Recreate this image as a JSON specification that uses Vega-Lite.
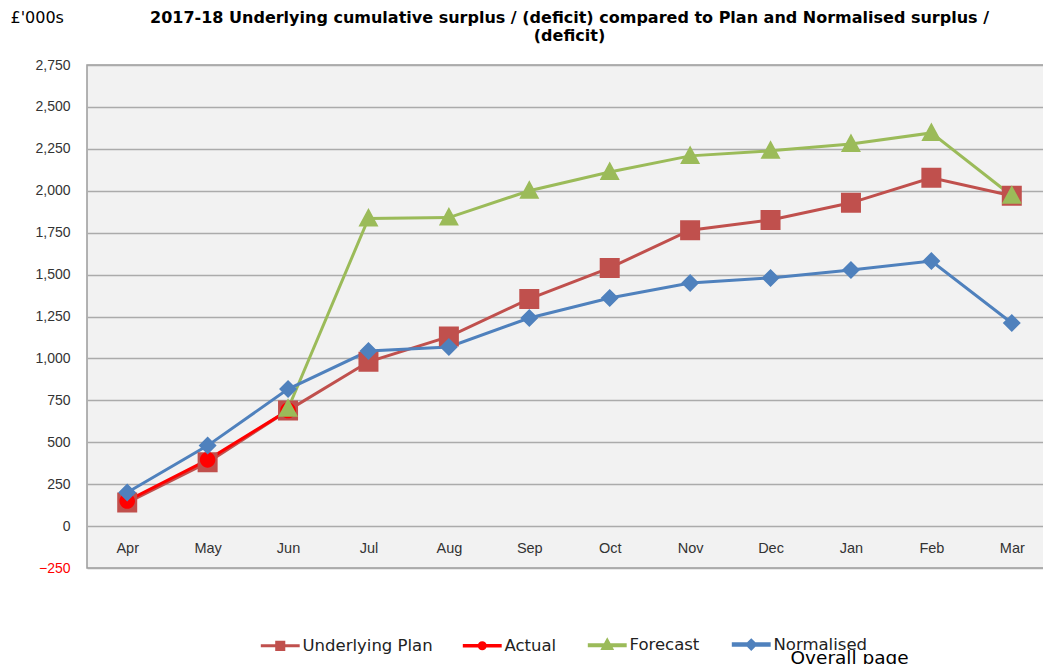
{
  "$schema": "https://vega.github.io/schema/vega-lite/v6.json",
  "width": 965,
  "height": 503,
  "autosize": {"type": "none"},
  "padding": {"left": 87, "top": 65, "right": 0, "bottom": 96},
  "background": "white",
  "title": {
    "text": ["2017-18 Underlying cumulative surplus / (deficit) compared to Plan and Normalised surplus /", "(deficit)"],
    "font": "DejaVu Sans",
    "fontSize": 16,
    "fontWeight": "bold",
    "color": "#000000",
    "anchor": "middle",
    "offset": -35,
    "lineHeight": 18
  },
  "data": {
    "values": [
      {"month": "Apr", "series": "Underlying Plan", "value": 140},
      {"month": "May", "series": "Underlying Plan", "value": 380},
      {"month": "Jun", "series": "Underlying Plan", "value": 690},
      {"month": "Jul", "series": "Underlying Plan", "value": 980},
      {"month": "Aug", "series": "Underlying Plan", "value": 1130},
      {"month": "Sep", "series": "Underlying Plan", "value": 1355},
      {"month": "Oct", "series": "Underlying Plan", "value": 1540},
      {"month": "Nov", "series": "Underlying Plan", "value": 1765},
      {"month": "Dec", "series": "Underlying Plan", "value": 1826},
      {"month": "Jan", "series": "Underlying Plan", "value": 1928},
      {"month": "Feb", "series": "Underlying Plan", "value": 2077},
      {"month": "Mar", "series": "Underlying Plan", "value": 1970},
      {"month": "Apr", "series": "Actual", "value": 150},
      {"month": "May", "series": "Actual", "value": 395},
      {"month": "Jun", "series": "Actual", "value": 690},
      {"month": "Jun", "series": "Forecast", "value": 700},
      {"month": "Jul", "series": "Forecast", "value": 1835},
      {"month": "Aug", "series": "Forecast", "value": 1840},
      {"month": "Sep", "series": "Forecast", "value": 2000},
      {"month": "Oct", "series": "Forecast", "value": 2112},
      {"month": "Nov", "series": "Forecast", "value": 2208},
      {"month": "Dec", "series": "Forecast", "value": 2238},
      {"month": "Jan", "series": "Forecast", "value": 2279},
      {"month": "Feb", "series": "Forecast", "value": 2345},
      {"month": "Mar", "series": "Forecast", "value": 1970},
      {"month": "Apr", "series": "Normalised", "value": 200},
      {"month": "May", "series": "Normalised", "value": 480},
      {"month": "Jun", "series": "Normalised", "value": 817},
      {"month": "Jul", "series": "Normalised", "value": 1044},
      {"month": "Aug", "series": "Normalised", "value": 1068},
      {"month": "Sep", "series": "Normalised", "value": 1241},
      {"month": "Oct", "series": "Normalised", "value": 1360},
      {"month": "Nov", "series": "Normalised", "value": 1450},
      {"month": "Dec", "series": "Normalised", "value": 1480},
      {"month": "Jan", "series": "Normalised", "value": 1527},
      {"month": "Feb", "series": "Normalised", "value": 1581},
      {"month": "Mar", "series": "Normalised", "value": 1211}
    ]
  },
  "encoding": {
    "x": {
      "field": "month",
      "type": "ordinal",
      "sort": ["Apr", "May", "Jun", "Jul", "Aug", "Sep", "Oct", "Nov", "Dec", "Jan", "Feb", "Mar"],
      "scale": {"type": "point", "padding": 0.5},
      "axis": {
        "title": "Overall page",
        "titleFont": "DejaVu Sans",
        "titleFontSize": 18.5,
        "titleFontWeight": "normal",
        "titleColor": "#000000",
        "titleAlign": "left",
        "titleAnchor": null,
        "titleBaseline": "alphabetic",
        "titleX": 703,
        "titleY": 95,
        "labelAngle": 0,
        "labelFont": "Liberation Sans",
        "labelFontSize": 14.5,
        "labelColor": "#333333",
        "labelPadding": -27,
        "ticks": false,
        "domain": false,
        "grid": false
      }
    },
    "y": {
      "field": "value",
      "type": "quantitative",
      "scale": {"domain": [-250, 2750], "nice": false, "zero": false},
      "axis": {
        "values": [-250, 0, 250, 500, 750, 1000, 1250, 1500, 1750, 2000, 2250, 2500, 2750],
        "format": ",.0f",
        "title": "£'000s",
        "titleFont": "DejaVu Sans",
        "titleFontSize": 16,
        "titleFontWeight": "normal",
        "titleColor": "#000000",
        "titleAngle": 0,
        "titleAlign": "left",
        "titleBaseline": "middle",
        "titleAnchor": null,
        "titleX": -77,
        "titleY": -48,
        "labelFont": "Liberation Sans",
        "labelFontSize": 14,
        "labelColor": {"expr": "datum.value < 0 ? '#ff0000' : '#333333'"},
        "labelPadding": 17,
        "ticks": false,
        "domain": false,
        "grid": true,
        "gridColor": "#ABABAB",
        "gridWidth": 1.5
      }
    },
    "color": {
      "field": "series",
      "type": "nominal",
      "sort": ["Underlying Plan", "Actual", "Forecast", "Normalised"],
      "scale": {
        "domain": ["Underlying Plan", "Actual", "Forecast", "Normalised"],
        "range": ["#C0504D", "#FF0000", "#9BBB59", "#4F81BD"]
      },
      "legend": {
        "orient": "none",
        "direction": "horizontal",
        "legendX": 185,
        "legendY": 571,
        "title": null,
        "labelFont": "DejaVu Sans",
        "labelFontSize": 16.5,
        "labelColor": "#222222",
        "labelLimit": 300,
        "symbolSize": 50,
        "symbolStrokeWidth": 3,
        "labelOffset": 14,
        "columnPadding": 22,
        "encode": {
          "symbols": {
            "update": {
              "stroke": {"scale": "color", "field": "value"},
              "strokeWidth": {"value": 3}
            }
          }
        }
      }
    }
  },
  "layer": [
    {
      "mark": {"type": "line", "strokeWidth": 3},
      "encoding": {
        "strokeWidth": {
          "field": "series",
          "type": "nominal",
          "scale": {"domain": ["Underlying Plan", "Actual", "Forecast", "Normalised"], "range": [3, 4.5, 3, 3]},
          "legend": null
        }
      }
    },
    {
      "mark": {"type": "point", "filled": true, "opacity": 1, "strokeWidth": 0, "size": 400},
      "encoding": {
        "shape": {
          "field": "series",
          "type": "nominal",
          "sort": ["Underlying Plan", "Actual", "Forecast", "Normalised"],
          "scale": {
            "domain": ["Underlying Plan", "Actual", "Forecast", "Normalised"],
            "range": [
              "M-5.5,0H5.5M-1,-1H1V1H-1Z",
              "M-5.5,0H5.5M-0.78,0A0.78,0.78,0,1,0,0.78,0A0.78,0.78,0,1,0,-0.78,0Z",
              "M-5.5,0H5.5M0,-1.05L1,0.8H-1Z",
              "M-5.5,0H5.5M0,-0.9L0.9,0L0,0.9L-0.9,0Z"
            ]
          }
        }
      }
    }
  ],
  "config": {
    "view": {"fill": "#F2F2F2", "stroke": "#9A9A9A", "strokeWidth": 1.5},
    "axis": {"labelFont": "Liberation Sans"}
  }
}
